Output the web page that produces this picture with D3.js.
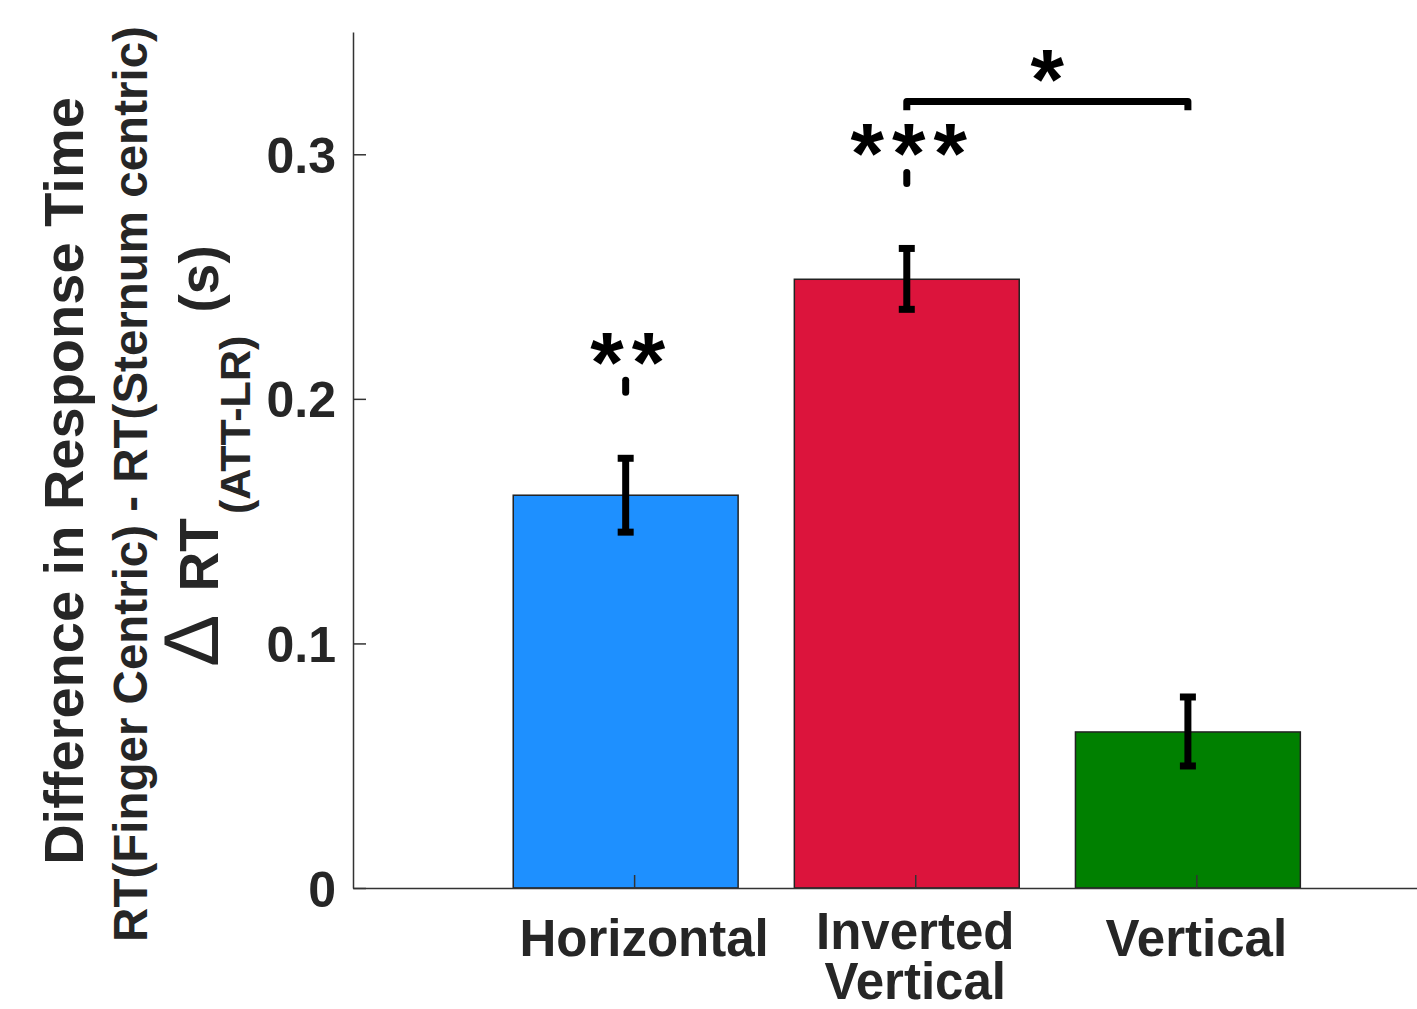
<!DOCTYPE html>
<html>
<head>
<meta charset="utf-8">
<script src="https://cdn.jsdelivr.net/npm/d3@7"></script>
<style>
  body { margin: 0; background: #fff; }
  text { font-family: "Liberation Sans", Arial, Helvetica, sans-serif; font-weight: bold; fill: #262626; }
</style>
</head>
<body>
<div id="chart"></div>
<script>
// data
var categories = ["Horizontal", "Inverted\nVertical", "Vertical"];
var barPositions = [0.97, 1.97, 2.97];
var tickPositions = [1, 2, 3];
var meanValues = [0.1606, 0.2489, 0.0638];
var errUpper = [0.1757, 0.2615, 0.0781];
var errLower = [0.1455, 0.2366, 0.0499];
var yTicks = [0, 0.1, 0.2, 0.3];
var yTickLabels = ["0", "0.1", "0.2", "0.3"];

// significance marks above single bars
var sigBars = [0, 1];
var sigStars = ["**", "***"];
var sigStarValue = [0.2203, 0.3057];
var sigStubLow = [0.2027, 0.2881];
var sigStubHigh = [0.2076, 0.2926];

// bracket between bars
var bracketBars = [1, 2];
var bracketValue = 0.3216;
var bracketEndValue = 0.3180;
var bracketStars = "*";
var bracketStarValue = 0.336;

var barColors = ["#1E90FF", "#DC143C", "#008000"];

var width = 1417;
var height = 1009;
var margin = {top: 32, right: 0, bottom: 121, left: 353};

var svg = d3.select("#chart")
    .append("svg")
    .attr("width", width)
    .attr("height", height);

var x = d3.scaleLinear()
    .domain([0, 3.785])
    .range([margin.left, width - margin.right]);

var y = d3.scaleLinear()
    .domain([0, 0.35])
    .range([height - margin.bottom, margin.top]);

var barWidth = 0.8;

// bars
svg.append("g")
  .selectAll("rect")
  .data(meanValues)
  .join("rect")
    .attr("x", (d, i) => x(barPositions[i] - barWidth / 2))
    .attr("y", d => y(d))
    .attr("width", x(barWidth) - x(0))
    .attr("height", d => y(0) - y(d))
    .attr("fill", (d, i) => barColors[i])
    .attr("stroke", "#222")
    .attr("stroke-width", 1.5);

// axes
var yAxis = g => g
    .attr("transform", `translate(${margin.left},0)`)
    .call(d3.axisLeft(y).tickValues(yTicks).tickFormat((d, i) => yTickLabels[i])
        .tickSizeInner(-13).tickSizeOuter(0).tickPadding(17))
    .call(g => g.selectAll("path, line").attr("stroke", "#333").attr("stroke-width", 1.5))
    .call(g => g.selectAll("text")
        .attr("font-size", 50)
        .attr("dy", "0.36em")
        .attr("fill", "#262626"));

var xAxis = g => g
    .attr("transform", `translate(0,${height - margin.bottom})`)
    .call(d3.axisBottom(x).tickValues(tickPositions).tickFormat("")
        .tickSizeInner(-13).tickSizeOuter(0))
    .call(g => g.selectAll("path, line").attr("stroke", "#333").attr("stroke-width", 1.5));

svg.append("g").call(xAxis);
svg.append("g").call(yAxis);

// x category labels
var labels = svg.append("g")
  .selectAll("text")
  .data(categories)
  .join("text")
    .attr("text-anchor", "middle")
    .attr("font-size", 51)
    .attr("transform", (d, i) => `translate(${x(tickPositions[i]) + (i === 0 ? 10 : 0)},0)`);

labels.each(function(d) {
  var lines = d.split("\n");
  var first = lines.length > 1 ? y(0) + 61 : y(0) + 68;
  d3.select(this).selectAll("tspan")
    .data(lines)
    .join("tspan")
      .attr("x", 0)
      .attr("y", (l, j) => first + j * 50)
      .text(l => l);
});

// error bars
var err = svg.append("g")
    .attr("stroke", "#000")
    .attr("stroke-width", 7);

err.selectAll(".stem")
  .data(meanValues)
  .join("line")
    .attr("x1", (d, i) => x(barPositions[i]))
    .attr("x2", (d, i) => x(barPositions[i]))
    .attr("y1", (d, i) => y(errLower[i]))
    .attr("y2", (d, i) => y(errUpper[i]));

err.selectAll(".capTop")
  .data(meanValues)
  .join("line")
    .attr("x1", (d, i) => x(barPositions[i]) - 8)
    .attr("x2", (d, i) => x(barPositions[i]) + 8)
    .attr("y1", (d, i) => y(errUpper[i]))
    .attr("y2", (d, i) => y(errUpper[i]));

err.selectAll(".capBottom")
  .data(meanValues)
  .join("line")
    .attr("x1", (d, i) => x(barPositions[i]) - 8)
    .attr("x2", (d, i) => x(barPositions[i]) + 8)
    .attr("y1", (d, i) => y(errLower[i]))
    .attr("y2", (d, i) => y(errLower[i]));

// significance stars over single bars
var starSize = 86;
svg.append("g")
  .selectAll("line")
  .data(sigBars)
  .join("line")
    .attr("x1", d => x(barPositions[d]))
    .attr("x2", d => x(barPositions[d]))
    .attr("y1", (d, i) => y(sigStubLow[i]))
    .attr("y2", (d, i) => y(sigStubHigh[i]))
    .attr("stroke", "#000")
    .attr("stroke-width", 7)
    .attr("stroke-linecap", "round");

svg.append("g")
  .selectAll("text")
  .data(sigBars)
  .join("text")
    .attr("x", d => x(barPositions[d]) + 6)
    .attr("y", (d, i) => y(sigStarValue[i]) + starSize * 0.5)
    .attr("text-anchor", "middle")
    .attr("font-size", starSize)
    .attr("letter-spacing", 8)
    .style("fill", "#000")
    .text((d, i) => sigStars[i]);

// bracket
var bx0 = x(barPositions[bracketBars[0]]);
var bx1 = x(barPositions[bracketBars[1]]);
svg.append("path")
    .attr("d", d3.line()([[bx0, y(bracketEndValue)], [bx0, y(bracketValue)], [bx1, y(bracketValue)], [bx1, y(bracketEndValue)]]))
    .attr("fill", "none")
    .attr("stroke", "#000")
    .attr("stroke-width", 7)
    .attr("stroke-linejoin", "round");

svg.append("text")
    .attr("x", (bx0 + bx1) / 2)
    .attr("y", y(bracketStarValue) + starSize * 0.5)
    .attr("text-anchor", "middle")
    .attr("font-size", starSize)
    .style("fill", "#000")
    .text(bracketStars);

// y axis title, three lines
svg.append("text")
    .attr("transform", "translate(83,481) rotate(-90)")
    .attr("text-anchor", "middle")
    .attr("font-size", 56)
    .text("Difference in Response Time");

svg.append("text")
    .attr("transform", "translate(147,484) rotate(-90)")
    .attr("text-anchor", "middle")
    .attr("font-size", 47.5)
    .text("RT(Finger Centric) - RT(Sternum centric)");

var t3 = svg.append("text")
    .attr("transform", "translate(218,456) rotate(-90)")
    .attr("text-anchor", "middle")
    .attr("font-size", 55);
t3.append("tspan").attr("font-weight", "normal").attr("font-size", 78).text("\u0394");
t3.append("tspan").attr("dx", 8).text(" RT");
t3.append("tspan").attr("font-size", 43).attr("dx", 4).attr("dy", 32).text("(ATT-LR)");
t3.append("tspan").attr("dx", 8).attr("dy", -32).text(" (s)");
</script>
</body>
</html>
